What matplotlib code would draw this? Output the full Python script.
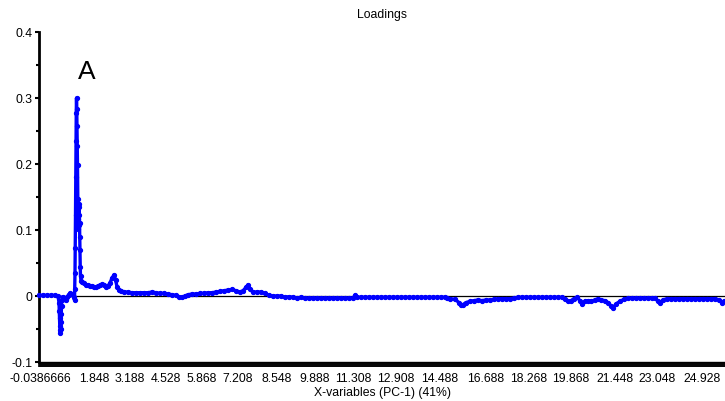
import matplotlib
matplotlib.use("Agg")
import matplotlib.pyplot as plt
from matplotlib.ticker import MultipleLocator

plt.rcParams['font.family'] = ['Liberation Sans', 'DejaVu Sans']

# ---- data -------------------------------------------------------------
n_variables = 2744

variable_index = [
    0, 16, 32, 48, 64, 76, 80, 81, 82, 83, 84, 85, 87, 88, 89, 90, 91, 94,
    100, 106, 112, 118, 124, 132, 138, 142,
    143, 144, 145, 146, 147, 148, 149, 150, 151, 152, 153, 154, 155, 156,
    157, 158, 159, 160, 161, 162, 163, 164, 165, 166, 168,
    172, 180, 188, 196, 204, 212, 220, 228, 236, 244, 252, 260, 268, 276,
    284, 292, 300, 306, 312, 320, 328, 340, 356, 372, 388, 404, 420, 436,
    452, 468, 484, 500, 516, 532, 548, 560, 572, 584, 596, 612, 628, 644,
    660, 676, 692, 708, 724, 740, 756, 772, 788, 804, 816, 828, 836, 844,
    856, 872, 888, 904, 920, 936, 952, 968, 984, 1000, 1016, 1032, 1048,
    1064, 1080, 1096, 1112, 1128, 1144, 1160, 1176, 1192, 1208, 1224, 1240,
    1256, 1264, 1272,
    1288, 1304, 1320, 1336, 1352, 1368, 1384, 1400, 1416, 1432, 1448, 1464,
    1480, 1496, 1512, 1528, 1544, 1560, 1576, 1592, 1608, 1624, 1632,
    1644, 1664, 1680, 1688, 1696, 1708, 1724, 1740, 1756, 1772, 1788, 1804,
    1820, 1836, 1852, 1868, 1884, 1900, 1916,
    1932, 1948, 1964, 1980, 1996, 2012, 2028, 2044, 2060, 2076, 2092,
    2104, 2116, 2128, 2140, 2152, 2164, 2172, 2184, 2196, 2208, 2224, 2236,
    2248, 2264, 2276, 2288, 2296, 2308, 2324, 2340, 2356,
    2372, 2388, 2404, 2420, 2436, 2452, 2464, 2476, 2484, 2496, 2512,
    2528, 2544, 2560, 2576, 2592, 2608, 2624, 2640, 2656, 2672, 2688,
    2704, 2720, 2732, 2740,
]

loading_pc1 = [
    0.001, 0.001, 0.001, 0.001, 0.001, 0.000, -0.010, -0.022, -0.033, -0.045,
    -0.052, -0.056, -0.050, -0.040, -0.028, -0.015, -0.006, -0.001,
    -0.004, -0.006, -0.002, 0.002, 0.004, 0.003, -0.002, -0.006,
    0.011, 0.035, 0.073, 0.123, 0.181, 0.235, 0.277, 0.300, 0.284, 0.257,
    0.227, 0.199, 0.147, 0.116, 0.102, 0.122, 0.139, 0.107, 0.135, 0.111,
    0.089, 0.069, 0.044, 0.030, 0.023,
    0.021, 0.019, 0.017, 0.016, 0.015, 0.015, 0.014, 0.014, 0.015, 0.016,
    0.018, 0.016, 0.014, 0.015, 0.020, 0.027, 0.032, 0.025, 0.014, 0.009,
    0.007, 0.006, 0.006, 0.005, 0.005, 0.005, 0.005, 0.005, 0.006, 0.005,
    0.004, 0.004, 0.003, 0.002, 0.001, -0.002, -0.002, 0.000, 0.002, 0.003,
    0.003, 0.004, 0.004, 0.005, 0.005, 0.006, 0.007, 0.008, 0.009, 0.010,
    0.008, 0.006, 0.008, 0.013, 0.017, 0.010, 0.006, 0.006, 0.006, 0.004,
    0.001, 0.000, 0.000, 0.000, -0.002, -0.001, -0.002, -0.003, -0.002,
    -0.003, -0.003, -0.003, -0.003, -0.003, -0.003, -0.003, -0.003, -0.003,
    -0.003, -0.003, -0.003, -0.003, 0.001, -0.002,
    -0.002, -0.002, -0.002, -0.002, -0.002, -0.002, -0.002, -0.002, -0.002,
    -0.002, -0.002, -0.002, -0.002, -0.002, -0.002, -0.002, -0.002, -0.002,
    -0.002, -0.002, -0.002, -0.002, -0.003,
    -0.004, -0.005, -0.010, -0.014, -0.013, -0.010, -0.008, -0.007, -0.006,
    -0.007, -0.006, -0.006, -0.005, -0.004, -0.004, -0.004, -0.004, -0.003,
    -0.002,
    -0.002, -0.002, -0.002, -0.002, -0.002, -0.002, -0.002, -0.002, -0.002,
    -0.002, -0.002,
    -0.005, -0.008, -0.007, -0.004, -0.002, -0.007, -0.012, -0.008, -0.007,
    -0.008, -0.006, -0.004, -0.006, -0.007, -0.010, -0.015, -0.018, -0.012,
    -0.008, -0.005, -0.003,
    -0.003, -0.003, -0.003, -0.003, -0.003, -0.003, -0.003, -0.008, -0.010,
    -0.006, -0.004,
    -0.004, -0.004, -0.004, -0.004, -0.004, -0.004, -0.004, -0.004, -0.004,
    -0.004, -0.004,
    -0.004, -0.006, -0.010, -0.008,
]

tick_index = [4, 220, 364, 508, 652, 796, 952, 1104, 1256, 1428, 1604,
              1788, 1960, 2128, 2304, 2472, 2652]
tick_labels = ["-0.0386666", "1.848", "3.188", "4.528", "5.868", "7.208",
               "8.548", "9.888", "11.308", "12.908", "14.488", "16.688",
               "18.268", "19.868", "21.448", "23.048", "24.928"]

y_ticks = [-0.1, 0.0, 0.1, 0.2, 0.3, 0.4]
y_tick_labels = ["-0.1", "0", "0.1", "0.2", "0.3", "0.4"]

# ---- figure -----------------------------------------------------------
W, H = 725, 402
fig = plt.figure(figsize=(W / 100, H / 100), dpi=100)
ax = fig.add_axes([39 / W, 39 / H, 686 / W, 330 / H])

ax.plot(variable_index, loading_pc1, color='#0000ff', lw=2.4,
        marker='o', ms=2.8, mec='#0000ff', mfc='#0000ff', zorder=3,
        clip_on=False)
ax.axhline(0, color='black', lw=0.9, zorder=2)

ax.set_xlim(0, n_variables)
ax.set_ylim(-0.1, 0.4)

for s in ['top', 'right']:
    ax.spines[s].set_visible(False)
ax.spines['left'].set_linewidth(2)
ax.spines['bottom'].set_linewidth(1)

ax.set_yticks(y_ticks)
ax.set_yticklabels(y_tick_labels)
ax.yaxis.set_minor_locator(MultipleLocator(0.05))
ax.tick_params(axis='y', which='major', length=3, width=1.5,
               labelsize=8.8, pad=2)
ax.tick_params(axis='y', which='minor', length=2.2, width=1.5)

ax.set_xticks(tick_index)
ax.set_xticklabels(tick_labels)
ax.xaxis.set_minor_locator(MultipleLocator(4))
ax.tick_params(axis='x', which='both', length=3.6, width=1.2,
               labelsize=8.8, pad=3.5)

ax.set_xlabel('X-variables (PC-1) (41%)', fontsize=8.8, labelpad=1.5)
ax.set_title('Loadings', fontsize=8.8, pad=11)

ax.text(190, 0.330, 'A', fontsize=19, ha='center', va='baseline')

fig.savefig('out.png', dpi=100)
